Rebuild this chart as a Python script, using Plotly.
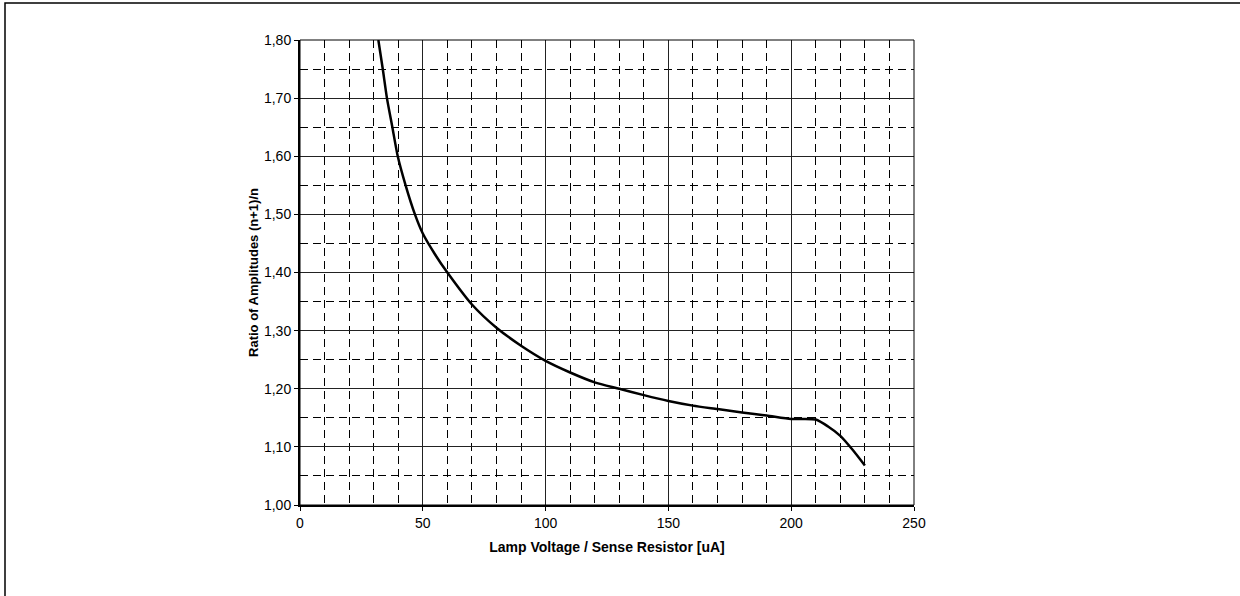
import plotly.graph_objects as go

# Data
current_uA = [31.9, 33.7, 35.4, 37.6, 39.8, 43.0, 46.8, 50, 55, 60, 70, 80, 90,
              100, 110, 120, 130, 140, 150, 160, 170, 180, 190, 200, 210, 215,
              220, 225, 230]
ratio = [1.800, 1.750, 1.700, 1.650, 1.600, 1.550, 1.500, 1.467, 1.431, 1.400,
         1.345, 1.305, 1.274, 1.248, 1.228, 1.211, 1.200, 1.189, 1.179, 1.171,
         1.165, 1.159, 1.154, 1.148, 1.147, 1.135, 1.119, 1.095, 1.068]

x_ticks = [0, 50, 100, 150, 200, 250]
y_ticks = [1.0, 1.1, 1.2, 1.3, 1.4, 1.5, 1.6, 1.7, 1.8]

W, H = 1240, 596
L, R, T, B = 300, 326, 40, 91

fig = go.Figure()
fig.add_trace(go.Scatter(x=current_uA, y=ratio, mode="lines",
                         line=dict(color="black", width=2.5, shape="spline",
                                   smoothing=0.6),
                         showlegend=False, hoverinfo="x+y"))

font = dict(family="Liberation Sans, Arial, sans-serif", color="black")

fig.update_layout(
    width=W, height=H,
    margin=dict(l=L, r=R, t=T, b=B, pad=0),
    paper_bgcolor="white", plot_bgcolor="white",
    separators=", ",
    font=dict(**font, size=14),
    xaxis=dict(
        range=[0, 250], tickvals=x_ticks, ticks="outside", ticklen=4,
        tickcolor="black", showline=True, linecolor="black", linewidth=2,
        showgrid=True, gridcolor="#222", gridwidth=1, zeroline=False,
        tickfont=dict(**font, size=14),
        title=dict(text="<b>Lamp Voltage / Sense Resistor [uA]</b>",
                   font=dict(**font, size=14), standoff=12),
        minor=dict(dtick=10, tick0=0, showgrid=True, gridcolor="black",
                   griddash="8px,5px", gridwidth=1, ticks=""),
    ),
    yaxis=dict(
        range=[1.0, 1.8], tickvals=y_ticks, tickformat=".2f", ticks="outside",
        ticklen=4, tickcolor="black", showline=True, linecolor="black",
        linewidth=2, showgrid=True, gridcolor="#222", gridwidth=1,
        zeroline=False, tickfont=dict(**font, size=14),
        title=dict(text="<b>Ratio of Amplitudes (n+1)/n</b>",
                   font=dict(**font, size=13), standoff=2),
        minor=dict(dtick=0.05, tick0=1.0, showgrid=True, gridcolor="black",
                   griddash="8px,5px", gridwidth=1, ticks=""),
    ),
)

# plot-area frame (top and right)
fig.add_shape(type="rect", xref="paper", yref="paper", x0=0, x1=1, y0=0, y1=1,
              line=dict(color="black", width=1), layer="above")

# outer chart border (only left/top visible in window)
pw = W - L - R
ph = H - T - B
bx0 = (5 - L) / pw
bx1 = (W + 10 - L) / pw
by_top = (H - B - 3) / ph
by_bot = (H - B - (H + 10)) / ph
fig.add_shape(type="rect", xref="paper", yref="paper", x0=bx0, x1=bx1,
              y0=by_bot, y1=by_top, line=dict(color="black", width=1.5))

fig.write_html("out.html",
               config={"displayModeBar": False},
               post_script="document.body.style.margin='0';"
                           "document.body.style.overflow='hidden';")
